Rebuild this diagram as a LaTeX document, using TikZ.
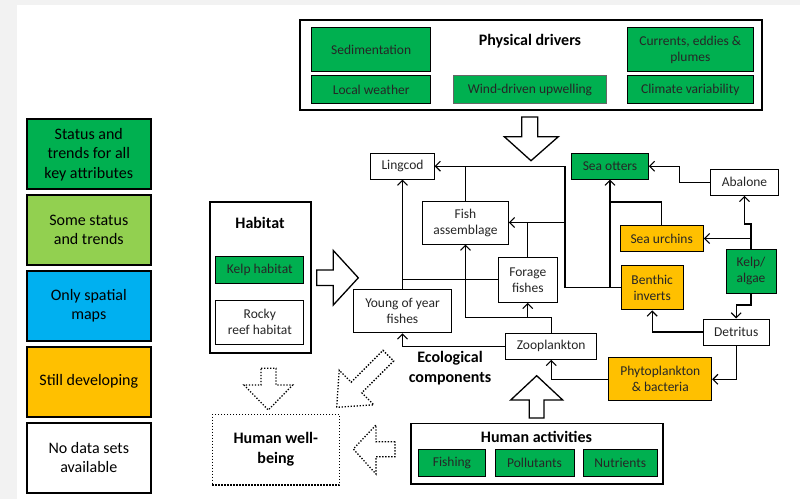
\documentclass[tikz,border=0pt]{standalone}
\usepackage{fontspec}
\setmainfont{Carlito}
\usetikzlibrary{arrows.meta}

\definecolor{stgreen}{HTML}{00B050}
\definecolor{ltgreen}{HTML}{92D050}
\definecolor{mapblue}{HTML}{00B0F0}
\definecolor{devorange}{HTML}{FFC000}
\definecolor{pagegray}{HTML}{F2F2F2}

\tikzset{
  box/.style={draw=black, line width=1pt, fill=white, inner sep=0pt, align=center,
              text=black!85, font=\fontsize{13.5}{16}\selectfont},
  sz/.style 2 args={minimum width=#1, minimum height=#2},
  frame/.style={draw=black, line width=1.8pt, inner sep=0pt},
  legbox/.style={draw=black, line width=2pt, inner sep=0pt, align=center,
                 minimum width=124pt, minimum height=70pt,
                 font=\fontsize{16}{19.5}\selectfont},
  title/.style={align=center, font=\bfseries\fontsize{16}{20}\selectfont},
  flow/.style={line width=1.1pt, -{Straight Barb[length=5pt,width=10pt]}},
  wire/.style={line width=1.1pt},
  bigarrow/.style={draw, line width=1.3pt, fill=white, line join=miter},
  dotline/.style={draw, line width=1.3pt, dash pattern=on 1.3pt off 1.7pt}
}

\begin{document}
\begin{tikzpicture}[x=1pt,y=-1pt]
  \useasboundingbox (0,0) rectangle (800,499);
  \fill[pagegray] (0,0) rectangle (800,499);
  \fill[white] (16.7,4.7) rectangle (800,499);

  % legend
  \foreach \n/\c/\yy/\txt in {1/stgreen/154.3/{Status and\\trends for all\\key attributes},
                              2/ltgreen/230/{Some status\\and trends},
                              3/mapblue/305.8/{Only spatial\\maps},
                              4/devorange/381.7/{Still developing},
                              5/white/457.7/{No data sets\\available}}
    \node[legbox, fill=\c] (leg\n) at (88.8,\yy) {\txt};

  % physical drivers
  \node[frame, sz={462pt}{90pt}] (physbox) at (531.3,65) {};
  \node[title] (phystitle) at (530,41) {Physical drivers};
  \node[box, fill=stgreen, sz={119pt}{44pt}] (sed) at (371.2,49.5) {Sedimentation};
  \node[box, fill=stgreen, sz={126pt}{44pt}] (cur) at (690.3,49.5) {Currents, eddies \&\\plumes};
  \node[box, fill=stgreen, sz={119pt}{27.6pt}] (weather) at (371.2,89.5) {Local weather};
  \node[box, fill=stgreen, draw=black!60, sz={153.4pt}{27.6pt}] (upwell) at (530,89.5) {Wind-driven upwelling};
  \node[box, fill=stgreen, sz={126pt}{27.6pt}] (climate) at (690.3,89.5) {Climate variability};
  \draw[bigarrow] (521.7,117) -- (537.7,117) -- (537.7,136.7) -- (558.3,136.7) -- (531,160.7)
    -- (504.3,136.7) -- (521.7,136.7) -- cycle;

  % habitat
  \node[frame, sz={100.7pt}{151pt}] (habbox) at (260.3,277.8) {};
  \node[title] (habtitle) at (260,223.3) {Habitat};
  \node[box, fill=stgreen, sz={88.3pt}{27.3pt}] (kelphab) at (259.8,270.3) {Kelp habitat};
  \node[box, sz={88.3pt}{44pt}] (rocky) at (259.8,322) {Rocky\\reef habitat};
  \draw[bigarrow] (316.7,270) -- (333.3,270) -- (333.3,250.5) -- (358.3,277.8) -- (333.3,305)
    -- (333.3,285.5) -- (316.7,285.5) -- cycle;

  % ecological components
  \node[box, sz={63.3pt}{25.7pt}] (lingcod) at (402.5,166.2) {Lingcod};
  \node[box, sz={85.6pt}{43pt}] (fishasm) at (465.5,222.5) {Fish\\assemblage};
  \node[box, sz={59pt}{45pt}] (forage) at (527.8,279.8) {Forage\\fishes};
  \node[box, sz={97.4pt}{43.7pt}] (yoy) at (402.5,311) {Young of year\\fishes};
  \node[box, sz={91pt}{26pt}] (zoo) at (551.2,346.3) {Zooplankton};
  \node[box, fill=devorange, sz={102.7pt}{43.3pt}] (phyto) at (660.3,379.3) {Phytoplankton\\\& bacteria};
  \node[box, sz={65.7pt}{26pt}] (detritus) at (736.2,332) {Detritus};
  \node[box, fill=devorange, sz={62.3pt}{44.3pt}] (benthic) at (652.2,287.8) {Benthic\\inverts};
  \node[box, fill=stgreen, sz={50pt}{44pt}] (kelp) at (751,271.3) {Kelp/\\algae};
  \node[box, fill=devorange, sz={83.3pt}{26.4pt}] (urchins) at (661.7,238.5) {Sea urchins};
  \node[box, fill=stgreen, sz={76.6pt}{25.7pt}] (otters) at (610,166.2) {Sea otters};
  \node[box, sz={67.6pt}{26pt}] (abalone) at (744.5,182.3) {Abalone};
  \node[title] (ecotitle) at (450,368) {Ecological\\components};

  \coordinate (trunk) at (565,200);
  \coordinate (zj) at (551.2,317.5);
  \coordinate (kd) at (751,305);
  \coordinate (ka) at (751,224);
  \coordinate (ao) at (679.3,182.3);
  \coordinate (uo) at (610,202);

  \draw[flow] (benthic.west) -| (trunk) |- (lingcod.east);
  \draw[flow] (trunk) |- (fishasm.east);
  \draw[wire] (forage.north) -- (forage.north |- fishasm.east);
  \draw[wire] (fishasm.north) -- (fishasm.north |- lingcod.east);
  \draw[flow] (yoy.north) -- (lingcod.south);
  \draw[wire] (forage.west) -- (forage.west -| yoy.north);
  \draw[flow] (zoo.north) -- (zj) -| (fishasm.south);
  \draw[flow] (zj -| forage.south) -- (forage.south);
  \draw[flow] (zoo.west) -| (yoy.south);
  \draw[flow] (phyto.west) -| (zoo.south);
  \draw[flow] (detritus.south) |- (phyto.east);
  \draw[flow] (detritus.west) -| (benthic.south);
  \draw[flow] (kelp.south) -- (kd) -| (detritus.north);
  \draw[flow] (kelp.north) |- (urchins.east);
  \draw[flow] (kelp.north) -- (ka) -| (abalone.south);
  \draw[flow] (abalone.west) -- (ao) |- (otters.east);
  \draw[flow] (benthic.west -| otters.south) -- (otters.south);
  \draw[wire] (urchins.north) |- (uo);

  % human activities
  \node[frame, line width=1.6pt, sz={252pt}{60.7pt}] (humbox) at (536.7,453.7) {};
  \node[title] (humtitle) at (536.5,436.7) {Human activities};
  \node[box, fill=stgreen, sz={67.4pt}{26.7pt}] (fishing) at (452,463.3) {Fishing};
  \node[box, fill=stgreen, sz={79pt}{26.7pt}] (pollut) at (534.5,463.3) {Pollutants};
  \node[box, fill=stgreen, sz={74pt}{26.7pt}] (nutri) at (620.3,463.3) {Nutrients};
  \draw[bigarrow] (529.3,418) -- (529.3,400) -- (510.7,400) -- (536.7,375.7) -- (562.7,400)
    -- (544,400) -- (544,418) -- cycle;

  % human well-being
  \node[dotline, inner sep=0pt, sz={127pt}{70.7pt}, title] (wellbeing) at (275.8,449.7) {Human well-\\being};
  \draw[dotline] (261,368.3) -- (276,368.3) -- (276,385) -- (292.7,385) -- (268.3,410)
    -- (244,385) -- (261,385) -- cycle;
  \draw[dotline] (395,441.7) -- (376,441.7) -- (376,425) -- (353.3,449) -- (376,474)
    -- (376,456.7) -- (395,456.7) -- cycle;
  \draw[dotline] (336.7,407.3) -- (339.2,370.2) -- (351.2,382.2) -- (383,350.4) -- (393.6,361)
    -- (361.8,392.8) -- (373.8,404.8) -- cycle;
\end{tikzpicture}
\end{document}
